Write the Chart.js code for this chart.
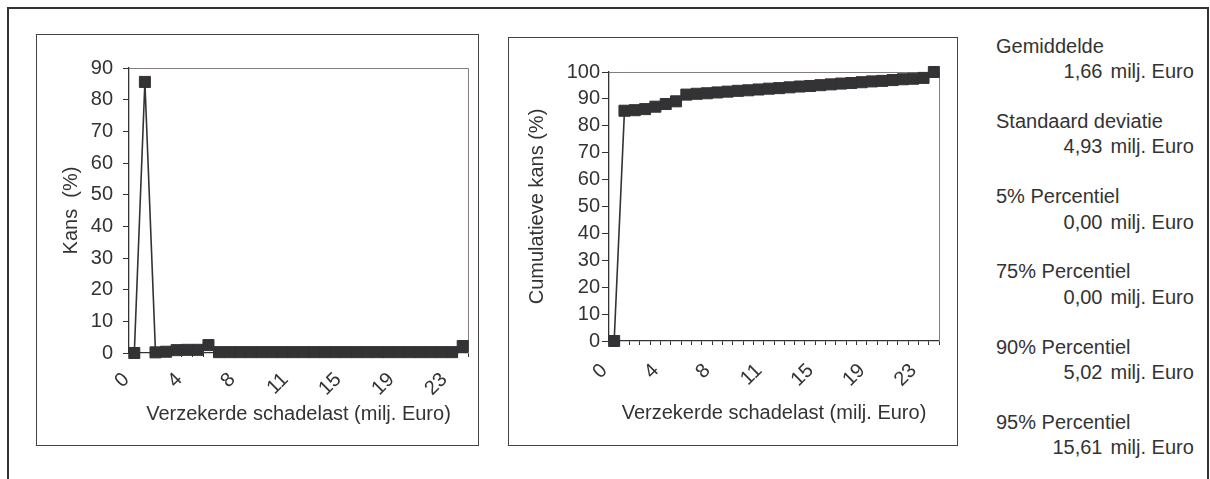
<!DOCTYPE html>
<html>
<head>
<meta charset="utf-8">
<script src="https://cdn.jsdelivr.net/npm/chart.js@4.4.1/dist/chart.umd.min.js"></script>
<style>
  html, body { margin: 0; padding: 0; background: #fff; }
  body { width: 1210px; height: 479px; overflow: hidden; position: relative;
         font-family: "Liberation Sans", Arial, sans-serif; color: #333; }
  .outer { position: absolute; left: 7px; top: 7px; width: 1202px; height: 520px;
           border: 2px solid #333; box-sizing: border-box; }
  .box { position: absolute; border: 1px solid #444; box-sizing: border-box; }
  .cv { position: absolute; }
  .stat { position: absolute; font-size: 20px; line-height: 20px; white-space: nowrap; color: #333; }
</style>
</head>
<body>
<div class="outer"></div>
<div class="box" style="left:36px;top:34px;width:443px;height:412px;"></div>
<div class="box" style="left:508px;top:37px;width:450px;height:409px;"></div>
<canvas id="kans" class="cv" width="441" height="410" style="left:37px;top:35px;width:441px;height:410px;"></canvas>
<canvas id="cumulatief" class="cv" width="448" height="407" style="left:509px;top:38px;width:448px;height:407px;"></canvas>
<div id="stats"></div>

<script>
// Loss classes (milj. Euro), one label per class
const categories = ['0','1','2','2','3','4','5','5','6','7','8','8','9','10','11','11',
                    '12','13','14','14','15','16','17','17','18','19','20','21','21','22','23','24'];
// Classes whose label is printed under the axis
const labelledClasses = [0, 5, 10, 15, 20, 25, 30];

// Probability per class (%)
const kans = [0, 85.6, 0.2, 0.4, 0.9, 1.0, 1.0, 2.5,
              0.27, 0.27, 0.27, 0.27, 0.27, 0.27, 0.27, 0.27, 0.27, 0.27, 0.27, 0.27,
              0.27, 0.27, 0.27, 0.27, 0.27, 0.27, 0.27, 0.27, 0.27, 0.27, 0.27,
              2.2];

// Cumulative probability (%)
const cumulatieveKans = [0, 85.6, 85.8, 86.2, 87.1, 88.1, 89.1, 91.6,
                         91.9, 92.1, 92.4, 92.7, 93.0, 93.2, 93.5, 93.8, 94.0, 94.3,
                         94.6, 94.8, 95.1, 95.4, 95.7, 95.9, 96.2, 96.5, 96.7, 97.0,
                         97.3, 97.5, 97.8, 100];

// Summary statistics
const statNames  = ['Gemiddelde', 'Standaard deviatie', '5% Percentiel',
                    '75% Percentiel', '90% Percentiel', '95% Percentiel'];
const statValues = ['1,66', '4,93', '0,00', '0,00', '5,02', '15,61'];
const statUnit   = 'milj. Euro';

const INK = '#333336';
Chart.defaults.font.family = "'Liberation Sans', Arial, sans-serif";
Chart.defaults.font.size = 20;
Chart.defaults.color = '#333';

// Thin grey frame along the top and right of the plot area
const plotFrame = {
  id: 'plotFrame',
  beforeDatasetsDraw(chart) {
    const { ctx, chartArea: a } = chart;
    ctx.save();
    ctx.strokeStyle = '#857d7d';
    ctx.lineWidth = 1;
    ctx.beginPath();
    ctx.moveTo(a.left, Math.round(a.top) + 0.5);
    ctx.lineTo(Math.round(a.right) + 0.5, Math.round(a.top) + 0.5);
    ctx.lineTo(Math.round(a.right) + 0.5, a.bottom);
    ctx.stroke();
    ctx.restore();
  }
};

function makeChart(id, data, yMax, yTitle, geo) {
  return new Chart(document.getElementById(id), {
    type: 'line',
    data: {
      labels: categories,
      datasets: [{
        data: data,
        borderColor: INK,
        backgroundColor: INK,
        borderWidth: 1.6,
        tension: 0,
        pointStyle: 'rect',
        pointRadius: 7.8,
        pointBorderWidth: 1,
        pointBorderColor: INK,
        pointBackgroundColor: INK,
        clip: false
      }]
    },
    options: {
      responsive: false,
      animation: false,
      events: [],
      layout: { padding: { top: geo.top, right: geo.right, left: 0, bottom: 0 } },
      plugins: { legend: { display: false }, tooltip: { enabled: false } },
      scales: {
        x: {
          type: 'category',
          offset: true,
          grid: { offset: true, drawOnChartArea: false, drawTicks: true, tickLength: 4, color: INK },
          border: { display: true, color: INK, width: 1.3 },
          ticks: {
            autoSkip: false,
            minRotation: 45, maxRotation: 45,
            padding: geo.xPad,
            labelOffset: geo.xLabelOffset,
            color: '#333',
            callback: (v, i) => labelledClasses.includes(i) ? categories[i] : ''
          },
          title: { display: true, text: 'Verzekerde schadelast (milj. Euro)', color: '#333',
                   padding: { top: 0, bottom: geo.xTitlePad } },
          afterFit(s) { s.height = geo.xHeight; s.paddingLeft = 0; s.paddingRight = 0; }
        },
        y: {
          min: 0, max: yMax,
          ticks: { stepSize: 10, autoSkip: false, padding: geo.yPad, color: '#333' },
          grid: { drawOnChartArea: false, drawTicks: true, tickLength: geo.yTick, color: INK },
          border: { display: true, color: INK, width: 1.3 },
          title: { display: true, text: yTitle, color: '#333',
                   padding: { top: geo.yTitlePad, bottom: 0 } },
          afterFit(s) { s.width = geo.yWidth; s.paddingTop = 0; s.paddingBottom = 0; }
        }
      }
    },
    plugins: [plotFrame]
  });
}

makeChart('kans', kans, 90, 'Kans  (%)', {
  top: 33, right: 10, yWidth: 92, xHeight: 92,
  yTick: 6, yPad: 10, xPad: 11, xLabelOffset: -8,
  xTitlePad: 19, yTitlePad: 22
});

makeChart('cumulatief', cumulatieveKans, 100, 'Cumulatieve kans (%)', {
  top: 34, right: 18, yWidth: 100, xHeight: 104,
  yTick: 7, yPad: 2, xPad: 14, xLabelOffset: -10,
  xTitlePad: 19.5, yTitlePad: 16.5
});

// Summary statistics column
const stats = document.getElementById('stats');
statNames.forEach((name, k) => {
  const c = 45.7 + 75.2 * k;
  const n = document.createElement('div');
  n.className = 'stat';
  n.style.left = '996px';
  n.style.top = (c - 10) + 'px';
  n.textContent = name;
  stats.appendChild(n);

  const v = document.createElement('div');
  v.className = 'stat';
  v.style.right = (1210 - 1102.5) + 'px';
  v.style.top = (c + 25.5 - 10) + 'px';
  v.textContent = statValues[k];
  stats.appendChild(v);

  const u = document.createElement('div');
  u.className = 'stat';
  u.style.left = '1110.5px';
  u.style.top = (c + 25.5 - 10) + 'px';
  u.textContent = statUnit;
  stats.appendChild(u);
});
</script>
</body>
</html>
